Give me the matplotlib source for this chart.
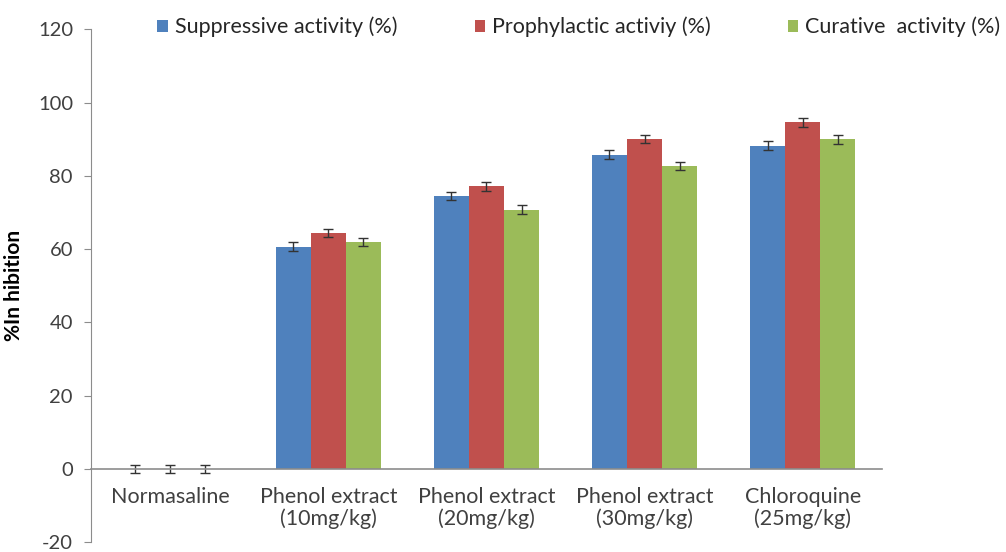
import numpy as np
import matplotlib.pyplot as plt

# Data
categories = ["Normasaline", "Phenol extract\n(10mg/kg)", "Phenol extract\n(20mg/kg)",
              "Phenol extract\n(30mg/kg)", "Chloroquine\n(25mg/kg)"]
suppressive = [0, 60.7, 74.6, 85.8, 88.2]
prophylactic = [0, 64.3, 77.1, 90.0, 94.6]
curative = [0, 62.0, 70.8, 82.7, 90.0]
suppressive_err = [1.2, 1.2, 1.1, 1.2, 1.2]
prophylactic_err = [1.2, 1.1, 1.2, 1.1, 1.2]
curative_err = [1.2, 1.1, 1.2, 1.2, 1.2]

series = [
    ("Suppressive activity (%)", suppressive, suppressive_err, "#4F81BD"),
    ("Prophylactic activiy (%)", prophylactic, prophylactic_err, "#C0504D"),
    ("Curative  activity (%)", curative, curative_err, "#9BBB59"),
]

plt.rcParams['font.family'] = ['Lato', 'DejaVu Sans']
plt.rcParams['axes.unicode_minus'] = False

fig = plt.figure(figsize=(10.06, 5.52), dpi=100)
ax = fig.add_axes([0.0905, 0.0175, 0.786, 0.9295])

x = np.arange(len(categories))
w = 0.222
for i, (name, vals, err, col) in enumerate(series):
    ax.bar(x + (i - 1) * w, vals, w, color=col, label=name,
           yerr=err, capsize=3.5,
           error_kw=dict(ecolor="#333333", elinewidth=1, capthick=1))

ax.set_xlim(-0.5, len(categories) - 0.5)
ax.set_ylim(-20, 120)
ax.set_yticks(np.arange(-20, 121, 20))

grey = "#8c8c8c"
for s in ["top", "right"]:
    ax.spines[s].set_visible(False)
ax.spines["left"].set_color(grey)
ax.spines["bottom"].set_color(grey)
ax.spines["bottom"].set_position(("data", 0))
ax.spines["bottom"].set_linewidth(1.2)

ax.set_xticks(x)
ax.set_xticklabels(categories, fontsize=15.5, color="#404040", linespacing=1.1)
ax.tick_params(axis="x", length=0, pad=13)
ax.tick_params(axis="y", colors=grey, labelcolor="#404040", labelsize=14.5,
               length=5, direction="out", pad=8)

ax.set_ylabel("%In hibition", fontsize=15, fontweight="bold", labelpad=10)

fig.legend(loc="center", bbox_to_anchor=(0.5755, 0.951), ncol=3, frameon=False,
           fontsize=15.5, handlelength=0.47, handleheight=0.47, handletextpad=0.33,
           columnspacing=3.6, labelcolor="#262626")

fig.savefig("out.png", dpi=100)
